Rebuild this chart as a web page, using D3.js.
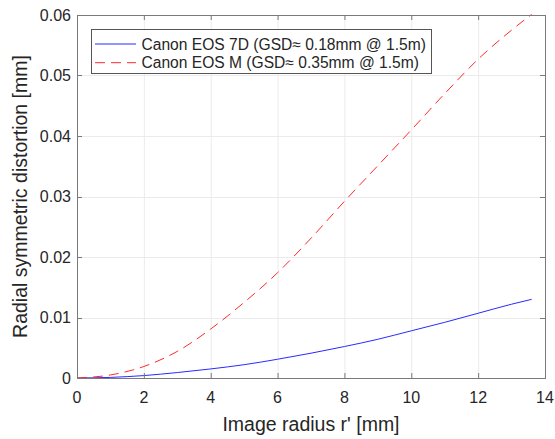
<!DOCTYPE html>
<html><head><meta charset="utf-8">
<script src="https://cdn.jsdelivr.net/npm/d3@7"></script>
<style>body{margin:0;background:#fff}svg text{font-family:"Liberation Sans",Arial,sans-serif;fill:#262626}</style>
</head><body><svg id="c" width="555" height="439"></svg>
<script>
const xTicks=[0,2,4,6,8,10,12,14];
const yTicks=[0,0.01,0.02,0.03,0.04,0.05,0.06];
const yTickLabels=["0","0.01","0.02","0.03","0.04","0.05","0.06"];
const rValues=[0,1,2,3,4,5,6,7,8,9,10,11,12,13,13.6];
const eos7d=[0,0.0001,0.0004,0.0009,0.0015,0.0022,0.0031,0.0041,0.0052,0.0064,0.0078,0.0092,0.0107,0.0122,0.0130];
const eosM=[0,0.0005,0.0019,0.0044,0.0081,0.0125,0.0174,0.0231,0.0292,0.0351,0.0410,0.0470,0.0527,0.0575,0.0601];
const seriesNames=["Canon EOS 7D (GSD\u2248 0.18mm @ 1.5m)","Canon EOS M (GSD\u2248 0.35mm @ 1.5m)"];

const svg=d3.select("#c");
const L=77,R=545,T=15,B=378;
const x=d3.scaleLinear().domain([0,14]).range([L,R]);
const y=d3.scaleLinear().domain([0,0.06]).range([B,T]);

// grid
const g=svg.append("g");
g.selectAll(".gx").data(xTicks).enter().append("line")
 .attr("x1",d=>x(d)+0.5).attr("x2",d=>x(d)+0.5).attr("y1",T).attr("y2",B)
 .attr("stroke","#ebebeb").attr("stroke-width",1);
g.selectAll(".gy").data(yTicks).enter().append("line")
 .attr("y1",d=>Math.round(y(d))+0.5).attr("y2",d=>Math.round(y(d))+0.5).attr("x1",L).attr("x2",R)
 .attr("stroke","#ebebeb").attr("stroke-width",1);

// lines
const line=(vals)=>d3.line().x((d,i)=>x(rValues[i])).y(d=>y(d)).curve(d3.curveMonotoneX)(vals);
svg.append("path").attr("d",line(eos7d)).attr("fill","none").attr("stroke","#2a2aff").attr("stroke-width",1);
svg.append("path").attr("d",line(eosM)).attr("fill","none").attr("stroke","#ff2a2a").attr("stroke-width",1).attr("stroke-dasharray","10,6");

// axes box & ticks
const ac="#7a7a7a";
svg.append("rect").attr("x",L+0.5).attr("y",T+0.5).attr("width",R-L).attr("height",B-T).attr("fill","none").attr("stroke",ac).attr("stroke-width",1);
const tl=5;
xTicks.forEach(d=>{
  svg.append("line").attr("x1",x(d)+0.5).attr("x2",x(d)+0.5).attr("y1",B).attr("y2",B-tl).attr("stroke",ac);
  svg.append("line").attr("x1",x(d)+0.5).attr("x2",x(d)+0.5).attr("y1",T).attr("y2",T+tl).attr("stroke",ac);
});
yTicks.forEach(d=>{
  svg.append("line").attr("y1",Math.round(y(d))+0.5).attr("y2",Math.round(y(d))+0.5).attr("x1",L).attr("x2",L+tl).attr("stroke",ac);
  svg.append("line").attr("y1",Math.round(y(d))+0.5).attr("y2",Math.round(y(d))+0.5).attr("x1",R).attr("x2",R-tl).attr("stroke",ac);
});
// tick labels
svg.selectAll(".xl").data(xTicks).enter().append("text")
 .attr("x",d=>x(d)).attr("y",403).attr("text-anchor","middle").attr("font-size",16).text(d=>d);
svg.selectAll(".yl").data(yTicks).enter().append("text")
 .attr("x",71).attr("y",d=>y(d)+5.8).attr("text-anchor","end").attr("font-size",16).text((d,i)=>yTickLabels[i]);
// axis labels
svg.append("text").attr("x",(L+R)/2).attr("y",431).attr("text-anchor","middle").attr("font-size",19.5).text("Image radius r' [mm]");
svg.append("text").attr("transform",`translate(27,${(T+B)/2}) rotate(-90)`).attr("text-anchor","middle").attr("font-size",19.5).text("Radial symmetric distortion [mm]");

// legend
svg.append("rect").attr("x",91.5).attr("y",29.5).attr("width",340).attr("height",44).attr("fill","#fff").attr("stroke","#555").attr("stroke-width",1);
const rows=[44,62.7];
svg.append("line").attr("x1",95).attr("x2",136).attr("y1",rows[0]).attr("y2",rows[0]).attr("stroke","#2a2aff");
svg.append("line").attr("x1",95).attr("x2",136).attr("y1",rows[1]).attr("y2",rows[1]).attr("stroke","#ff2a2a").attr("stroke-dasharray","10,6");
seriesNames.forEach((s,i)=>svg.append("text").attr("x",141.5).attr("y",rows[i]+5.5).attr("font-size",15.6).text(s));
</script></body></html>
